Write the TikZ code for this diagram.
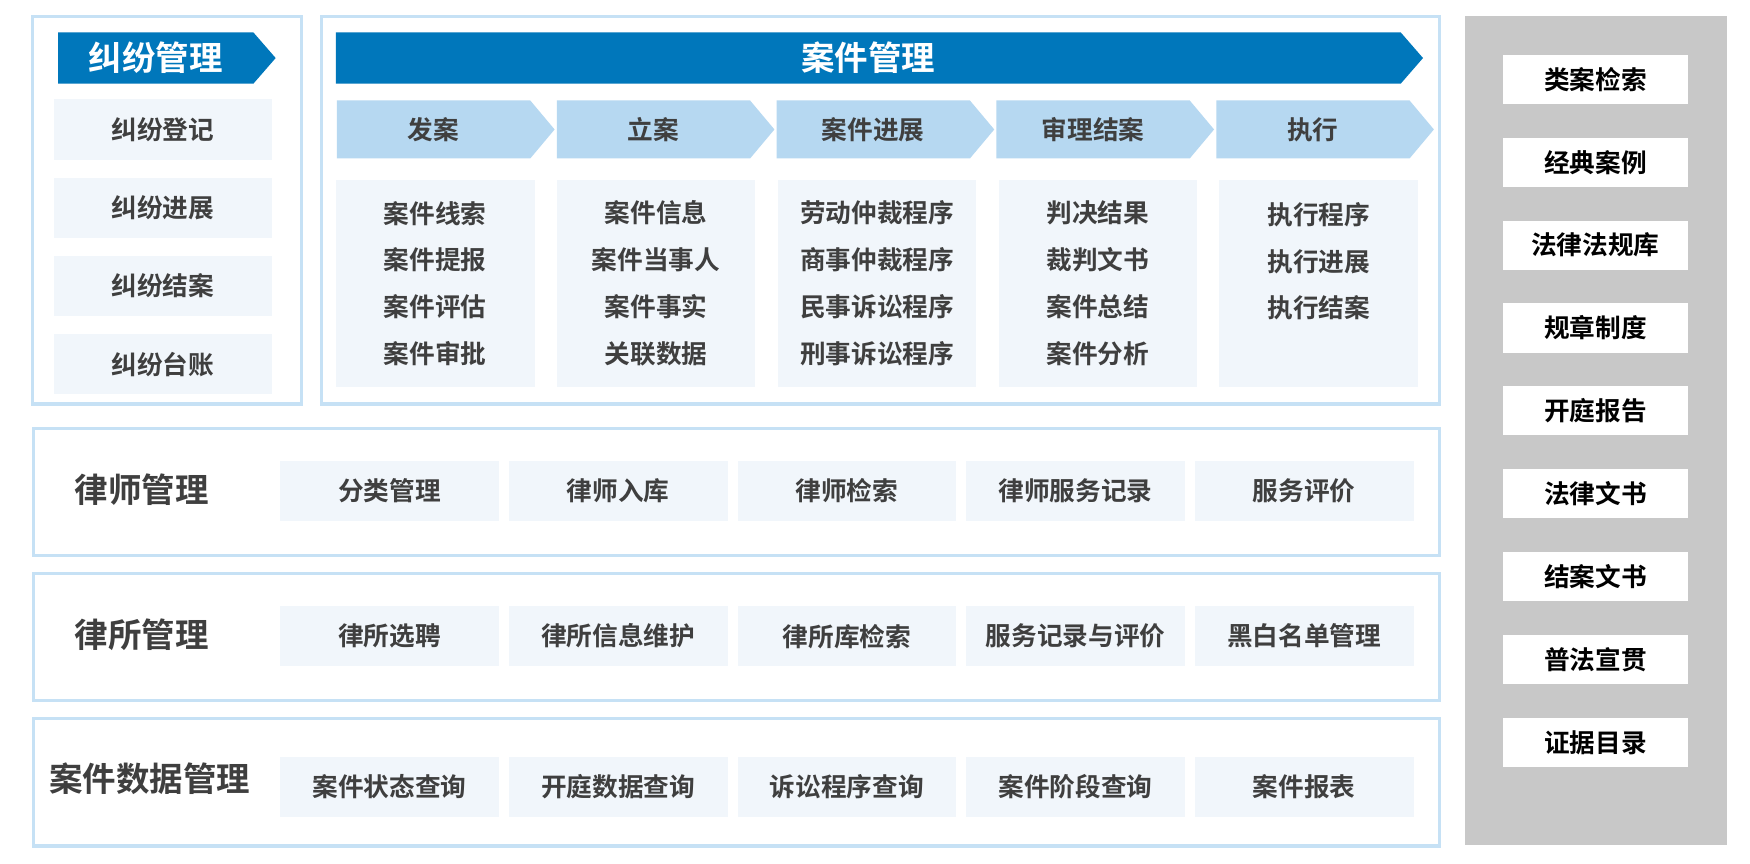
\documentclass[tikz,border=0pt]{standalone}
\usepackage{fontspec}
\setmainfont{Noto Sans CJK SC}[BoldFont={Noto Sans CJK SC Bold}]
\usetikzlibrary{
  shapes.symbols,
  chains,
  positioning
}
\definecolor{deepblue}{HTML}{0077BB}
\definecolor{paleblue}{HTML}{B6D8F1}
\definecolor{edgeblue}{HTML}{C6E1F5}
\definecolor{cellbg}{HTML}{F1F6FB}
\definecolor{panelgray}{HTML}{C8C8C8}
\definecolor{inkgray}{HTML}{3F3F3F}

\begin{document}
\begin{tikzpicture}[x=1pt,y=-1pt,
  frame/.style={rectangle,draw=edgeblue,line width=2.8pt,fill=white,inner sep=0pt},
  head/.style={signal,signal to=east,signal pointer angle=98,fill=deepblue,text=white,font=\fontsize{30}{34}\selectfont\bfseries,minimum height=46pt,inner sep=0pt},
  phase/.style={signal,signal to=east,signal pointer angle=100,fill=paleblue,text=inkgray,font=\fontsize{23}{28}\selectfont\bfseries,minimum width=195pt,minimum height=52pt,inner sep=0pt},
  cell/.style={rectangle,fill=cellbg,text=inkgray,font=\fontsize{23}{28}\selectfont\bfseries,minimum width=196pt,minimum height=54pt,inner sep=0pt},
  stack/.style={rectangle,fill=cellbg,text=inkgray,font=\fontsize{23}{42}\selectfont\bfseries,align=center,minimum width=178pt,minimum height=185pt,inner sep=0pt},
  tool/.style={rectangle,fill=white,text=black,font=\fontsize{23}{28}\selectfont\bfseries,minimum width=165pt,minimum height=44pt,inner sep=0pt},
  rowtitle/.style={text=inkgray,font=\fontsize{30}{34}\selectfont\bfseries,inner sep=0pt}]
\useasboundingbox (0,0) rectangle (1568,774);

% dispute column
\node[frame,minimum width=241pt,minimum height=347pt] (dispute) at (149.5,188.5) {};
\node[head,minimum width=195pt] (disputehead) at (139.5,52) {纠纷管理};
\begin{scope}[start chain=dis going below,node distance=15.7pt]
\node[cell,on chain] at (146,116) {纠纷登记};
\node[cell,on chain] {纠纷进展};
\node[cell,on chain] {纠纷结案};
\node[cell,on chain] {纠纷台账};
\end{scope}

% case column
\node[frame,minimum width=1002pt,minimum height=347pt] (casebox) at (789,188.5) {};
\node[head,minimum width=974pt] (casehead) at (778,52) {案件管理};
\begin{scope}[start chain=phase going right,node distance=1.5pt]
\node[phase,on chain] at (388.5,116) {发案};
\node[phase,on chain] {立案};
\node[phase,on chain] {案件进展};
\node[phase,on chain] {审理结案};
\node[phase,on chain] {执行};
\end{scope}
\begin{scope}[start chain=stack going right,node distance=19.5pt]
\node[stack,on chain] at (390,254) {案件线索\\案件提报\\案件评估\\案件审批};
\node[stack,on chain] {案件信息\\案件当事人\\案件事实\\关联数据};
\node[stack,on chain] {劳动仲裁程序\\商事仲裁程序\\民事诉讼程序\\刑事诉讼程序};
\node[stack,on chain] {判决结果\\裁判文书\\案件总结\\案件分析};
\node[stack,on chain] {执行程序\\执行进展\\执行结案\\~};
\end{scope}

% lawyers
\node[frame,minimum width=1260pt,minimum height=114pt] (lawyerbox) at (660,441) {};
\node[rowtitle] (lawyertitle) at (127,439) {律师管理};
\begin{scope}[start chain=lawyer going right,node distance=8.5pt]
\node[cell,on chain] at (349,440) {分类管理};
\node[cell,on chain] {律师入库};
\node[cell,on chain] {律师检索};
\node[cell,on chain] {律师服务记录};
\node[cell,on chain] {服务评价};
\end{scope}

% law firms
\node[frame,minimum width=1260pt,minimum height=114pt] (firmbox) at (660,570.5) {};
\node[rowtitle] (firmtitle) at (127,569) {律所管理};
\begin{scope}[start chain=firm going right,node distance=8.5pt]
\node[cell,on chain] at (349,570) {律所选聘};
\node[cell,on chain] {律所信息维护};
\node[cell,on chain] {律所库检索};
\node[cell,on chain] {服务记录与评价};
\node[cell,on chain] {黑白名单管理};
\end{scope}

% case data
\node[frame,minimum width=1260pt,minimum height=114pt] (databox) at (660,701) {};
\node[rowtitle] (datatitle) at (134,698) {案件数据管理};
\begin{scope}[start chain=data going right,node distance=8.5pt]
\node[cell,on chain] at (349,705) {案件状态查询};
\node[cell,on chain] {开庭数据查询};
\node[cell,on chain] {诉讼程序查询};
\node[cell,on chain] {案件阶段查询};
\node[cell,on chain] {案件报表};
\end{scope}

% library panel
\node[rectangle,fill=panelgray,minimum width=234pt,minimum height=743pt,inner sep=0pt] (library) at (1430,385.5) {};
\begin{scope}[start chain=tool going below,node distance=29.9pt]
\node[tool,on chain] at (1429.5,71) {类案检索};
\node[tool,on chain] {经典案例};
\node[tool,on chain] {法律法规库};
\node[tool,on chain] {规章制度};
\node[tool,on chain] {开庭报告};
\node[tool,on chain] {法律文书};
\node[tool,on chain] {结案文书};
\node[tool,on chain] {普法宣贯};
\node[tool,on chain] {证据目录};
\end{scope}
\end{tikzpicture}
\end{document}
